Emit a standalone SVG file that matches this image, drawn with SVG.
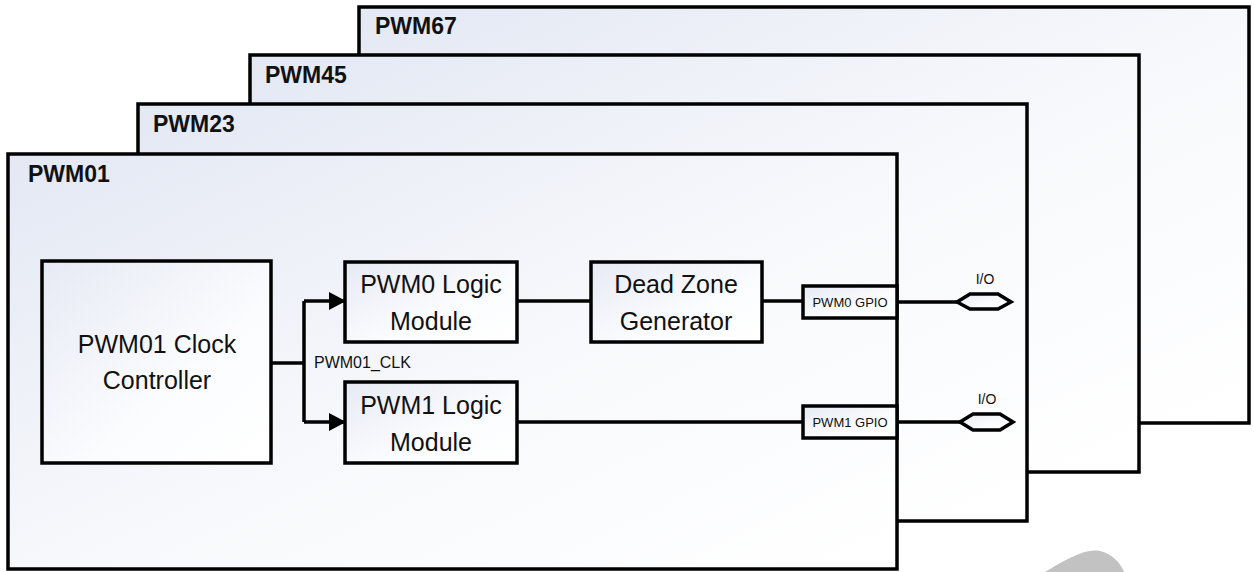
<svg xmlns="http://www.w3.org/2000/svg" width="1254" height="572" viewBox="0 0 1254 572">
<defs>
<linearGradient id="pg" x1="0" y1="0" x2="1" y2="1">
<stop offset="0" stop-color="#e3e8f3"/>
<stop offset="0.55" stop-color="#f8f9fc"/>
<stop offset="1" stop-color="#ffffff"/>
</linearGradient>
<linearGradient id="bg" x1="0" y1="0" x2="1" y2="1">
<stop offset="0" stop-color="#e6eaf4"/>
<stop offset="0.6" stop-color="#fbfcfe"/>
<stop offset="1" stop-color="#ffffff"/>
</linearGradient>
<marker id="arr" markerUnits="userSpaceOnUse" markerWidth="17" markerHeight="18" refX="16" refY="9" orient="auto">
<path d="M0,0 L17,9 L0,18 Z" fill="#000"/>
</marker>
</defs>
<style>
.panel{fill:url(#pg);stroke:#000;stroke-width:3.5}
.box{fill:url(#bg);stroke:#000;stroke-width:3.5}
.gpio{fill:url(#bg);stroke:#000;stroke-width:3.5}
.plabel{font-family:"Liberation Sans",Arial,sans-serif;font-weight:bold;font-size:23px;fill:#111}
.t{font-family:"Liberation Sans",Arial,sans-serif;font-size:25px;fill:#111;text-anchor:middle}
.s{font-family:"Liberation Sans",Arial,sans-serif;font-size:13px;fill:#111}
.io{font-family:"Liberation Sans",Arial,sans-serif;font-size:14px;fill:#111;text-anchor:middle}
.wire{fill:none;stroke:#000;stroke-width:3.5}
.hex{fill:url(#bg);stroke:#000;stroke-width:3.5}
</style>
<path d="M1045,572 C1065,560 1085,548 1100,551 C1112,554 1120,562 1124,572 Z" fill="#c2c2c2"/>
<g id="PWM67"><rect class="panel" x="359" y="7" width="890" height="416"/><text class="plabel" x="375" y="34">PWM67</text></g>
<g id="PWM45"><rect class="panel" x="250" y="55" width="889" height="417"/><text class="plabel" x="265" y="83">PWM45</text></g>
<g id="PWM23"><rect class="panel" x="138" y="104" width="889" height="417"/><text class="plabel" x="153" y="132">PWM23</text></g>
<g id="PWM01"><rect class="panel" x="8" y="154" width="889" height="415"/><text class="plabel" x="28" y="182">PWM01</text></g>
<g id="clock"><rect class="box" x="42" y="261" width="229" height="202"/><text class="t" x="157" y="353">PWM01 Clock</text><text class="t" x="157" y="389">Controller</text></g>
<g id="logic0"><rect class="box" x="345" y="262" width="172" height="80"/><text class="t" x="431" y="293">PWM0 Logic</text><text class="t" x="431" y="330">Module</text></g>
<g id="logic1"><rect class="box" x="345" y="382" width="172" height="81"/><text class="t" x="431" y="414">PWM1 Logic</text><text class="t" x="431" y="451">Module</text></g>
<g id="deadzone"><rect class="box" x="591" y="262" width="171" height="80"/><text class="t" x="676" y="293">Dead Zone</text><text class="t" x="676" y="330">Generator</text></g>
<g id="gpio0"><rect class="gpio" x="803" y="286" width="94" height="32"/><text class="s" x="850" y="307" text-anchor="middle">PWM0 GPIO</text></g>
<g id="gpio1"><rect class="gpio" x="803" y="406" width="94" height="32"/><text class="s" x="850" y="427" text-anchor="middle">PWM1 GPIO</text></g>
<g id="io0"><polygon class="hex" points="957,302 970,294 998,294 1011,302 998,309 970,309"/><text class="io" x="985" y="284">I/O</text></g>
<g id="io1"><polygon class="hex" points="960,422 973,414 1000,414 1013,422 1000,430 973,430"/><text class="io" x="987" y="404">I/O</text></g>
<g id="connectors">
<path class="wire" d="M271,363 H304"/>
<path class="wire" d="M304,301 V422"/>
<path class="wire" d="M304,301 H345" marker-end="url(#arr)"/>
<path class="wire" d="M304,422 H345" marker-end="url(#arr)"/>
<text class="s" x="314" y="368" style="font-size:16px">PWM01_CLK</text>
<path class="wire" d="M517,301 H591"/>
<path class="wire" d="M762,301 H803"/>
<path class="wire" d="M517,422 H803"/>
<path class="wire" d="M897,302 H957"/>
<path class="wire" d="M897,422 H960"/>
</g>
</svg>
